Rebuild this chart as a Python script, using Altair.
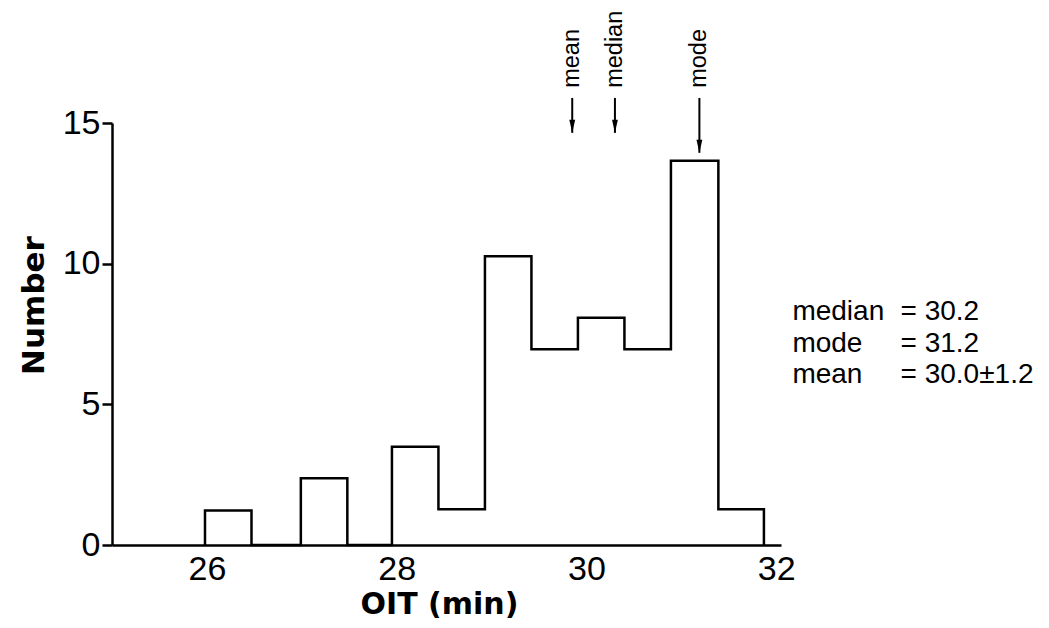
import altair as alt
import pandas as pd

# Histogram bin edges (min) and counts
bin_edges = [25.98, 26.47, 26.99, 27.48, 27.95, 28.44, 28.93, 29.42, 29.91, 30.40, 30.89, 31.39, 31.87]
bin_counts = [1.23, 0.0, 2.37, 0.0, 3.49, 1.27, 10.26, 6.96, 8.08, 6.96, 13.66, 1.27]

x_ticks = [26, 28, 30, 32]
y_ticks = [0, 5, 10, 15]

# Arrow annotations above the histogram
arrow_labels = ["mean", "median", "mode"]
arrow_x = [29.85, 30.30, 31.19]
arrow_tip = [14.65, 14.65, 13.94]
arrow_top = 15.89
arrow_text_y = 16.25

# Summary statistics text
stat_names = ["median", "mode", "mean"]
stat_values = ["= 30.2", "= 31.2", "= 30.0\u00b11.2"]
stat_y = [8.0, 6.86, 5.76]
stat_name_x = 32.17
stat_value_x = 33.31

# Build the step outline points
pts = []
order = 0
pts.append({"x": bin_edges[0], "y": 0.0, "o": order}); order += 1
for i, c in enumerate(bin_counts):
    pts.append({"x": bin_edges[i], "y": c, "o": order}); order += 1
pts.append({"x": bin_edges[-1], "y": 0.0, "o": order})
step_df = pd.DataFrame(pts)

arrows_df = pd.DataFrame({"label": arrow_labels, "x": arrow_x, "tip": arrow_tip,
                          "top": [arrow_top] * 3, "ty": [arrow_text_y] * 3})
stats_df = pd.DataFrame({"name": stat_names, "value": stat_values, "y": stat_y,
                         "nx": [stat_name_x] * 3, "vx": [stat_value_x] * 3})

xscale = alt.Scale(domain=[25, 32.05], nice=False, zero=False)
yscale = alt.Scale(domain=[0, 15], nice=False, zero=False)

x_axis = alt.Axis(values=x_ticks, format="d", ticks=False, tickSize=0, grid=False,
                  labelFont="Liberation Sans", labelFontSize=34, labelColor="black",
                  labelPadding=7, domainColor="black", domainWidth=2.5,
                  title="OIT (min)", titleFont="DejaVu Sans", titleFontWeight="bold",
                  titleFontSize=30, titleColor="black", titleX=327, titleY=68,
                  titleAlign="center", titleBaseline="alphabetic", labelFlush=False)
y_axis = alt.Axis(values=y_ticks, format="d", ticks=True, tickSize=10, tickWidth=2.5,
                  tickColor="black", grid=False, labelFont="Liberation Sans",
                  labelFontSize=34, labelColor="black", labelPadding=2,
                  domainColor="black", domainWidth=2.5,
                  title="Number", titleFont="DejaVu Sans", titleFontWeight="bold",
                  titleFontSize=31, titleColor="black", titleX=-69, titleY=182,
                  titleAngle=270, titleAlign="center", titleBaseline="alphabetic",
                  labelFlush=False)

step = alt.Chart(step_df).mark_line(interpolate="step-after", color="black",
                                    strokeWidth=2.5).encode(
    x=alt.X("x:Q", scale=xscale, axis=x_axis),
    y=alt.Y("y:Q", scale=yscale, axis=y_axis),
    order="o:Q",
)

rules = alt.Chart(arrows_df).mark_rule(color="black", strokeWidth=2).encode(
    x="x:Q", y="top:Q", y2="tip:Q")

heads = alt.Chart(arrows_df).mark_point(shape="M-0.45,-1L0.45,-1L0,1Z", filled=True,
                                        size=169, color="black", opacity=1,
                                        yOffset=-6.5).encode(
    x="x:Q", y="tip:Q")

arrow_text = alt.Chart(arrows_df).mark_text(angle=270, align="left", baseline="middle",
                                            font="Liberation Sans", fontSize=23.5,
                                            color="black").encode(
    x="x:Q", y="ty:Q", text="label:N")

stat_names_t = alt.Chart(stats_df).mark_text(align="left", baseline="alphabetic",
                                             font="Liberation Sans", fontSize=28,
                                             color="black").encode(
    x="nx:Q", y="y:Q", text="name:N")
stat_values_t = alt.Chart(stats_df).mark_text(align="left", baseline="alphabetic",
                                              font="Liberation Sans", fontSize=28,
                                              color="black").encode(
    x="vx:Q", y="y:Q", text="value:N")

chart = alt.layer(step, rules, heads, arrow_text, stat_names_t, stat_values_t).properties(
    width=669, height=422,
    autosize=alt.AutoSizeParams(type="none"),
    padding={"left": 104, "top": 115, "right": 255, "bottom": 75},
).configure(background="white").configure_view(stroke=None)

chart.save("out.html", embed_options={"renderer": "svg", "actions": False})
